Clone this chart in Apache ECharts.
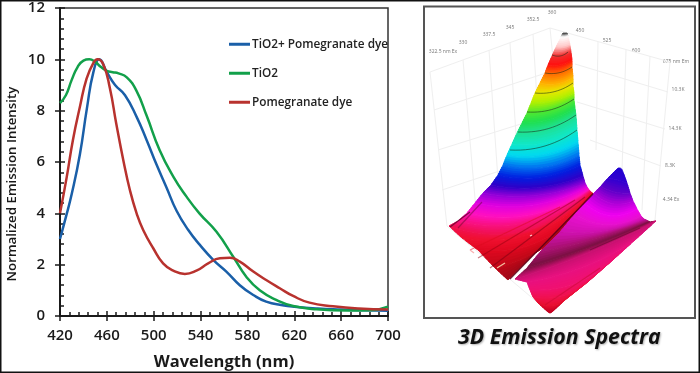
<!DOCTYPE html>
<html><head><meta charset="utf-8">
<script src="https://cdn.jsdelivr.net/npm/echarts@6/dist/echarts.min.js"></script>
<style>html,body{margin:0;padding:0;background:#fff}#c{width:700px;height:373px;filter:blur(0.45px)}</style>
</head><body><div id="c"></div>
<script>
// ---- left panel: emission spectra (wavelength nm, intensity)
var blueValues=[[420,3],[425,3.85],[430,4.75],[437,6.3],[443,8.1],[448.5,9.5],[453.5,10],[460,9.5],[467,9],[475.5,8.6],[485.5,7.75],[494,6.85],[502.4,5.9],[511,5],[519.5,4.1],[529.5,3.35],[539.4,2.77],[551,2.18],[562,1.73],[573.5,1.2],[585,0.82],[596,0.56],[610,0.42],[620,0.36],[640,0.29],[660,0.25],[680,0.22],[700,0.2]];
var greenValues=[[420,8.3],[425,8.6],[430,9.2],[435,9.7],[440,9.95],[445,10],[450,9.9],[455,9.7],[460,9.55],[465,9.5],[470,9.45],[477,9.3],[485,8.8],[494,7.8],[505,6.47],[516.7,5.43],[528,4.65],[539,4],[553.6,3.28],[568,2.3],[579,1.53],[590.5,1],[605,0.62],[619,0.39],[639,0.26],[665,0.21],[685,0.22],[700,0.36]];
var redValues=[[420,4],[425.7,5.4],[431,6.85],[437,8.15],[442.7,9.25],[448.4,9.85],[452,10],[457,9.8],[462.6,8.87],[468,7.5],[474,6.08],[479.7,4.9],[485.4,4],[491,3.35],[499.6,2.64],[508,2.05],[516.7,1.77],[526.6,1.64],[536.5,1.77],[546.5,2.05],[556.5,2.25],[565,2.27],[573.5,2.12],[585,1.73],[596,1.4],[607.6,1.08],[619,0.78],[633,0.52],[653,0.38],[675,0.29],[700,0.25]];
var seriesNames=['TiO2+ Pomegranate dye','TiO2','Pomegranate dye'];
var xMajor=[420,460,500,540,580,620,660,700];
var xMinor=[428,436,444,452,468,476,484,492,508,516,524,532,548,556,564,572,588,596,604,612,628,636,644,652,668,676,684,692];
var yMajor=[0,2,4,6,8,10,12];
var yMinor=[0.4,0.8,1.2,1.6,2.4,2.8,3.2,3.6,4.4,4.8,5.2,5.6,6.4,6.8,7.2,7.6,8.4,8.8,9.2,9.6,10.4,10.8,11.2,11.6];

// ---- right panel: 3D surface. Each row: [left],[middle],[right],colour
var mainRows=[
[[563,33],[564,33],[567,33],'#222222'],
[[561,37],[565,37],[568,36],'#ffffff'],
[[556,47],[563,47],[570,45],'#ffc8c8'],
[[552,56],[560,56],[571,52],'#f03030'],
[[548,65],[559,65],[572,60],'#ff1010'],
[[545,73],[556,74],[572,67],'#ff6a00'],
[[540,83],[555,84],[573,77],'#ffb000'],
[[535,93],[553,92],[573,86],'#e8e800'],
[[531,103],[551,101],[574,93],'#b0f000'],
[[527,113],[550,110],[574,100],'#50e830'],
[[522,123],[547,120],[575,108],'#20e050'],
[[517,133],[543,130],[576,116],'#20e090'],
[[512,144],[538,144],[577,130],'#10e8c8'],
[[507,155],[535,156],[578,142],'#00d8f0'],
[[503,165],[533,168],[579,155],'#0070f0'],
[[498,175],[532,178],[580,165],'#0020e0'],
[[491,185],[530,188],[583,176],'#3000c8'],
[[483,193],[528,196],[585,183],'#9000d8'],
[[475,203],[525,206],[587,187],'#e000e0'],
[[467,213],[522,216],[589,190],'#ff10c0'],
[[458,221],[518,224],[590,191],'#f81080'],
[[449,226],[515,233],[591,192],'#f01050'],
[[462,238],[525,235],[592,193],'#f01030'],
[[478,250],[530,245],[593,193],'#e00820'],
[[495,268],[540,250],[593,193],'#c00818'],
[[508,280],[550,238],[593,193],'#a00818']
];
var ridgeRows=[
[[618,168],[620,168],[623,172],'#2000d0'],
[[608,178],[618,180],[627,183],'#3000d0'],
[[601,186],[615,192],[630,193],'#6000c8'],
[[594,193],[610,203],[633,201],'#b000d8'],
[[585,203],[607,215],[637,209],'#f000f0'],
[[575,214],[600,224],[641,216],'#e810d0'],
[[560,232],[595,232],[644,219],'#d010b0'],
[[540,252],[590,240],[648,221],'#a81070'],
[[527,268],[587,248],[650,222],'#781040'],
[[515,279],[590,252],[656,221],'#c81070'],
[[527,282],[575,270],[635,240],'#e81080'],
[[530,290],[570,285],[615,258],'#f01070'],
[[533,297],[565,295],[590,280],'#f01050'],
[[538,303],[550,306],[565,300],'#e81030'],
[[548,312],[550,313],[552,312],'#c00020']
];
var contourRows=[
[[552,55],[560,56],[568,52]],
[[545,73],[558,73],[572,67]],
[[535,93],[553,92],[573,83]],
[[527,112],[550,110],[574,99]],
[[518,132],[543,130],[576,115]],
[[510,150],[537,148],[577,130]]
];
var streaks=[
[[450,227],[470,212],'rgba(90,10,40,0.8)'],[[458,228],[482,202],'rgba(90,10,40,0.45)'],
[[478,258],[575,200],'rgba(150,0,16,0.5)'],[[490,268],[585,197],'rgba(120,0,16,0.5)'],[[470,250],[560,207],'rgba(220,10,30,0.5)'],
[[510,279],[593,194],'rgba(90,0,20,0.85)'],
[[590,250],[640,228],'rgba(90,10,40,0.5)'],
[[545,305],[600,268],'rgba(200,10,48,0.5)'],[[497,268],[505,263],'#f4c0a0'],[[530,236],[532,235],'#ffd0d0'],[[470,250],[474,253],'#f8b0b0']
];
var wallLines=[
[[550,28],[430,72]],[[550,28],[670,62]],[[430,72],[447,226]],[[670,62],[655,220]],[[550,28],[563,160]],
[[447,226],[550,313]],[[550,313],[655,220]],
[[434,110],[555,70]],[[438,150],[559,112]],[[442,190],[563,150]],
[[575,64],[668,92]],[[577,102],[665,129]],[[590,140],[661,166]],
[[463,60],[476,210]],[[489,50],[498,180]],[[510,43],[517,150]],[[533,34],[537,100]],
[[598,42],[596,150]],[[626,50],[622,170]],[[650,56],[642,210]]
];
var axisText=[
[443,52,'322.5 nm Ex'],[463,43,'330'],[489,35,'337.5'],[510,28,'345'],[533,20,'352.5'],[552,13,'360'],
[580,31,'450'],[607,41,'525'],[636,51,'600'],[676,62,'675 nm Em'],
[678,90,'10.3K'],[675,129,'14.3K'],[670,166,'8.3K'],[671,200,'4.34 Ex']
];

// build helper: sample a row as a quadratic through its three points
function dist(a,b){return Math.sqrt((a[0]-b[0])*(a[0]-b[0])+(a[1]-b[1])*(a[1]-b[1]));}
function curve(r,t){var a=r[0],b=r[1],c=r[2],u=1-t,d1=dist(a,b),d2=dist(b,c),s=(d1+d2)?d1/(d1+d2):0.5;
  if(s<0.05||s>0.95)s=0.5;var v=1-s;
  var mx=(b[0]-v*v*a[0]-s*s*c[0])/(2*v*s),my=(b[1]-v*v*a[1]-s*s*c[1])/(2*v*s);
  return [u*u*a[0]+2*u*t*mx+t*t*c[0],u*u*a[1]+2*u*t*my+t*t*c[1]];}
function rowPts(r){var p=[];for(var i=0;i<=14;i++)p.push(curve(r,i/14));return p;}
function hex(c){return [parseInt(c.substr(1,2),16),parseInt(c.substr(3,2),16),parseInt(c.substr(5,2),16)];}
function strips(rows){var out=[],N=5;
  for(var i=0;i<rows.length-1;i++){var A=rowPts(rows[i]),B=rowPts(rows[i+1]),ca=hex(rows[i][3]),cb=hex(rows[i+1][3]);
    for(var k=0;k<N;k++){var t0=k/N,t1=(k+1)/N+0.12,tc=(k+0.5)/N;if(t1>1)t1=1;var up=[],lo=[];
      for(var j=0;j<A.length;j++){up.push([A[j][0]+(B[j][0]-A[j][0])*t0,A[j][1]+(B[j][1]-A[j][1])*t0]);
        lo.unshift([A[j][0]+(B[j][0]-A[j][0])*t1,A[j][1]+(B[j][1]-A[j][1])*t1]);}
      out.push({pts:up.concat(lo),fill:'rgb('+[0,1,2].map(function(q){return Math.round(ca[q]+(cb[q]-ca[q])*tc)}).join(',')+')'});}
  }return out;}
var mainStrips=strips(mainRows),ridgeStrips=strips(ridgeRows);

function polySeries(list,z){return {type:'custom',xAxisIndex:3,yAxisIndex:3,coordinateSystem:'cartesian2d',silent:true,clip:false,z:z,
  data:list.map(function(_,i){return [i,0]}),encode:{x:0,y:1},
  renderItem:function(p,api){var s=list[api.value(0)];
    return {type:'polygon',shape:{points:s.pts.map(function(q){return api.coord(q)})},style:{fill:s.fill,stroke:s.fill,lineWidth:0.8}};}};}
function lineSeries(list,color,width,z){return {type:'custom',xAxisIndex:3,yAxisIndex:3,coordinateSystem:'cartesian2d',silent:true,clip:false,z:z,
  data:list.map(function(_,i){return [i,0]}),encode:{x:0,y:1},
  renderItem:function(p,api){var s=list[api.value(0)];
    return {type:'polyline',shape:{points:s.pts.map(function(q){return api.coord(q)})},style:{fill:null,stroke:s.color||color,lineWidth:s.width||width}};}};}

var font='"Open Sans"';
var axisLine={lineStyle:{color:'#1a1a1a',width:1.5}};
function xA(vals,len,inside,label){return {type:'value',gridIndex:0,min:420,max:700,position:'bottom',splitLine:{show:false},
  axisLine:axisLine,axisTick:{show:true,customValues:vals,length:len,inside:inside,lineStyle:{color:'#1a1a1a',width:1.5}},
  axisLabel:label?{show:true,customValues:xMajor,margin:12,fontFamily:font,fontSize:15,fontWeight:600,color:'#1a1a1a'}:{show:false},
  name:label?'Wavelength (nm)':'',nameLocation:'middle',nameGap:38,nameTextStyle:{fontFamily:font,fontSize:16.5,fontWeight:700,color:'#1a1a1a'}};}
function yA(vals,len,inside,label){return {type:'value',gridIndex:0,min:0,max:12,position:'left',splitLine:{show:false},
  axisLine:axisLine,axisTick:{show:true,customValues:vals,length:len,inside:inside,lineStyle:{color:'#1a1a1a',width:1.5}},
  axisLabel:label?{show:true,customValues:yMajor,margin:15,fontFamily:font,fontSize:15,fontWeight:600,color:'#1a1a1a'}:{show:false},
  name:label?'Normalized Emission Intensity':'',nameLocation:'middle',nameGap:41,nameTextStyle:{fontFamily:font,fontSize:13.3,fontWeight:600,color:'#1a1a1a',padding:[0,44,0,0]}};}
function spec(name,data,color){return {type:'line',name:name,xAxisIndex:0,yAxisIndex:0,data:data,smooth:0.5,showSymbol:false,symbol:'none',clip:true,z:5,
  lineStyle:{color:color,width:2.5},itemStyle:{color:color}};}

var chart=echarts.init(document.getElementById('c'),null,{renderer:'canvas'});
chart.setOption({animation:false,backgroundColor:'#fff',
 title:{text:'3D Emission Spectra',left:458,top:327,padding:0,textStyle:{fontFamily:font,fontStyle:'italic',fontWeight:700,fontSize:21.3,color:'#111',textShadowColor:'rgba(0,0,0,0.3)',textShadowBlur:2,textShadowOffsetX:1,textShadowOffsetY:1}},
 legend:{orient:'vertical',left:229,top:36,padding:0,itemGap:12.5,itemWidth:21,itemHeight:3,icon:'rect',
   data:seriesNames,selectedMode:false,textStyle:{fontFamily:font,fontSize:11.8,fontWeight:600,color:'#222',padding:[0,0,0,-3],lineHeight:16.5}},
 grid:[{left:60,top:8,width:328,height:308,show:true,borderColor:'#333',borderWidth:1.5,backgroundColor:'transparent',outerBoundsMode:'none'},
       {left:0,top:0,width:700,height:373,show:false,outerBoundsMode:'none'}],
 xAxis:[xA(xMajor,5,false,true),xA(xMajor,5,true,false),xA(xMinor,4,true,false),
   {type:'value',gridIndex:1,min:0,max:700,show:false}],
 yAxis:[yA(yMajor,5,false,true),yA(yMajor,5,true,false),yA(yMinor,4,true,false),
   {type:'value',gridIndex:1,min:0,max:373,inverse:true,show:false}],
 graphic:[{type:'rect',z:-1,shape:{x:0.75,y:0.75,width:698.5,height:371.5},style:{fill:null,stroke:'#111',lineWidth:1.5}},
   {type:'rect',z:-1,shape:{x:424,y:6.5,width:271,height:311.5},style:{fill:'#fff',stroke:'#555',lineWidth:2}}].concat(
   axisText.map(function(t){return {type:'text',z:1,x:t[0],y:t[1],style:{text:t[2],fontFamily:font,fontSize:5,fill:'#777',align:'center',verticalAlign:'middle'}};})),
 series:[spec(seriesNames[0],blueValues,'#1a5fa8'),spec(seriesNames[1],greenValues,'#12a04a'),spec(seriesNames[2],redValues,'#b8322e'),
   lineSeries(wallLines.map(function(l){return {pts:l}}),'#efefef',1,1),
   polySeries(mainStrips,2),
   lineSeries(contourRows.map(function(r){return {pts:rowPts(r)}}),'rgba(20,40,20,0.55)',1,3),
   polySeries(ridgeStrips,3),
   lineSeries(streaks.map(function(l){return {pts:[l[0],l[1]],color:l[2]}}),'#800',1.2,4)
 ]});
</script></body></html>
